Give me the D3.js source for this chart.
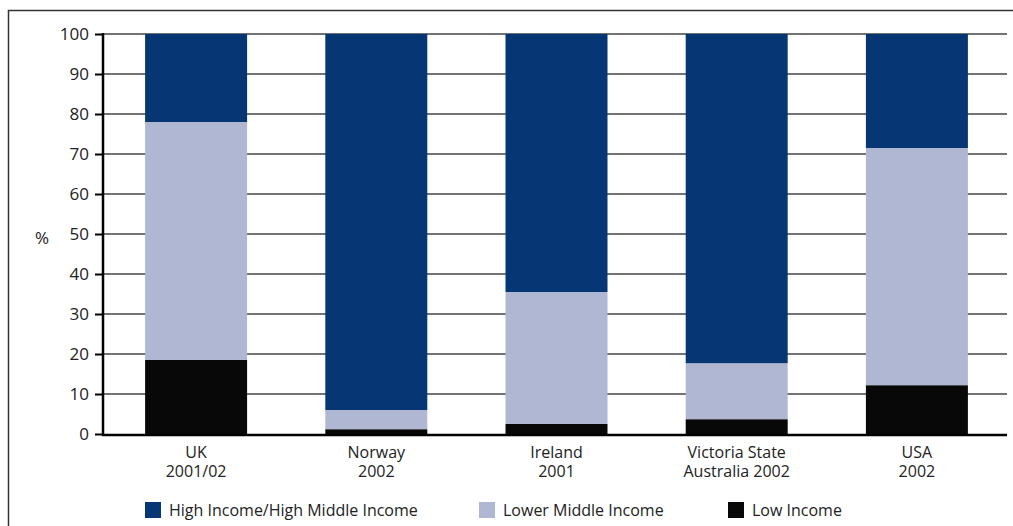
<!DOCTYPE html>
<html>
<head>
<meta charset="utf-8">
<script src="https://cdn.jsdelivr.net/npm/d3@7"></script>
<style>
  body { margin: 0; background: #fff; }
  svg text { font-family: "Open Sans", "Noto Sans", sans-serif; fill: #222; }
</style>
</head>
<body>
<svg width="1013" height="526"></svg>
<script>
const categories = [["UK", "2001/02"], ["Norway", "2002"], ["Ireland", "2001"], ["Victoria State", "Australia 2002"], ["USA", "2002"]];
const seriesNames = ["Low Income", "Lower Middle Income", "High Income/High Middle Income"];
const lowIncome = [18.5, 1.2, 2.5, 3.7, 12.2];
const lowerMiddle = [59.5, 4.8, 33, 14, 59.3];
const highIncome = [22, 94, 64.5, 82.3, 28.5];
const yTicks = [0, 10, 20, 30, 40, 50, 60, 70, 80, 90, 100];
const colors = ["#080808", "#b0b7d2", "#063673"];

const svg = d3.select("svg");

// outer frame
svg.append("path")
  .attr("d", "M8.5,526 V10.5 H1013")
  .attr("fill", "none").attr("stroke", "#333").attr("stroke-width", 1.5);

const x = d3.scaleBand()
  .domain(categories.map(d => d[0]))
  .range([106, 1007])
  .paddingInner(0.434)
  .paddingOuter(0.217);

const y = d3.scaleLinear().domain([0, 100]).range([434, 34]);

// gridlines
svg.append("g").selectAll("line")
  .data(yTicks.filter(d => d > 0))
  .join("line")
  .attr("x1", 103).attr("x2", 1007)
  .attr("y1", d => y(d)).attr("y2", d => y(d))
  .attr("stroke", "#444").attr("stroke-width", 1.4);

// stacked bars
const rows = categories.map((c, i) => ({ key: c[0], low: lowIncome[i], mid: lowerMiddle[i], high: highIncome[i] }));
const stack = d3.stack().keys(["low", "mid", "high"])(rows);

svg.append("g").selectAll("g")
  .data(stack)
  .join("g")
  .attr("fill", (d, i) => colors[i])
  .selectAll("rect")
  .data(d => d)
  .join("rect")
  .attr("x", d => x(d.data.key))
  .attr("width", x.bandwidth())
  .attr("y", d => y(d[1]))
  .attr("height", d => y(d[0]) - y(d[1]));

// y axis
const yAxis = svg.append("g")
  .attr("transform", "translate(103,0)")
  .call(d3.axisLeft(y).tickValues(yTicks).tickSize(8).tickPadding(6));
yAxis.select(".domain").remove();
yAxis.selectAll(".tick line").attr("stroke", "#000").attr("stroke-width", 2);
yAxis.selectAll(".tick text")
  .attr("font-size", 17).attr("fill", "#222")
  .style("font-family", "'Open Sans', 'Noto Sans', sans-serif");

svg.append("line")
  .attr("x1", 103).attr("x2", 103).attr("y1", y(100) - 1).attr("y2", y(0) + 2)
  .attr("stroke", "#000").attr("stroke-width", 2.5);
svg.append("line")
  .attr("x1", 102).attr("x2", 1007).attr("y1", y(0) + 1).attr("y2", y(0) + 1)
  .attr("stroke", "#000").attr("stroke-width", 2.5);

svg.append("text")
  .attr("x", 42).attr("y", 238)
  .attr("text-anchor", "middle").attr("dy", "0.35em")
  .attr("font-size", 17).text("%");

// category labels
const cat = svg.append("g").selectAll("text")
  .data(categories)
  .join("text")
  .attr("text-anchor", "middle")
  .attr("font-size", 16)
  .attr("x", d => x(d[0]) + x.bandwidth() / 2);
cat.append("tspan").attr("x", d => x(d[0]) + x.bandwidth() / 2).attr("y", 458).text(d => d[0]);
cat.append("tspan").attr("x", d => x(d[0]) + x.bandwidth() / 2).attr("y", 477).text(d => d[1]);

// legend
const legendItems = [
  { name: seriesNames[2], color: colors[2], x: 145 },
  { name: seriesNames[1], color: colors[1], x: 479 },
  { name: seriesNames[0], color: colors[0], x: 728 }
];
const lg = svg.append("g").selectAll("g")
  .data(legendItems)
  .join("g")
  .attr("transform", d => `translate(${d.x},502)`);
lg.append("rect").attr("width", 16).attr("height", 16).attr("fill", d => d.color);
lg.append("text").attr("x", 24).attr("y", 8).attr("dy", "0.35em")
  .attr("font-size", 16).text(d => d.name);
</script>
</body>
</html>
